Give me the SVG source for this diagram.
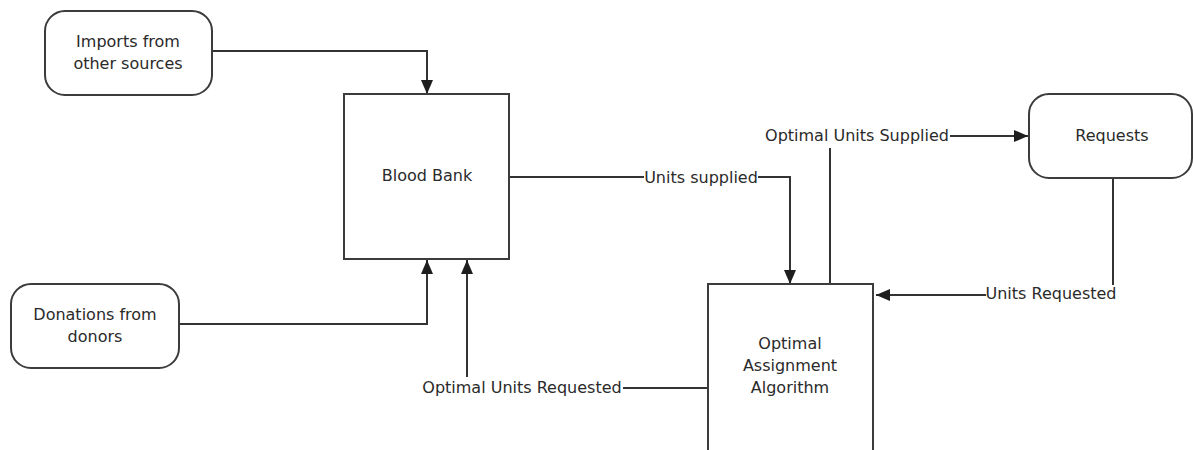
<svg xmlns="http://www.w3.org/2000/svg" width="1193" height="450" viewBox="0 0 1193 450">
  <defs>
    <marker id="arrow" markerUnits="userSpaceOnUse" markerWidth="14" markerHeight="12" refX="14" refY="6" orient="auto">
      <path d="M0,0 L14,6 L0,12 z" fill="#1e1e1e"/>
    </marker>
    <style>
      .box { fill: #ffffff; stroke: #3c3c3c; stroke-width: 2; }
      .wire { fill: none; stroke: #333; stroke-width: 2; }
      .label { font-family: "DejaVu Sans", "Liberation Sans", sans-serif; font-size: 16px; fill: #2a2a2a; text-anchor: middle; }
    </style>
  </defs>
  <rect width="1193" height="450" fill="#ffffff"/>

  <!-- connectors -->
  <g id="connectors">
    <!-- imports into blood bank -->
    <path class="wire" d="M212,51 H427 V94" marker-end="url(#arrow)"/>
    <!-- donations into blood bank -->
    <path class="wire" d="M179,324 H427 V260" marker-end="url(#arrow)"/>
    <!-- optimal units requested back to blood bank -->
    <path class="wire" d="M708,388 H623"/>
    <path class="wire" d="M467,377 V260" marker-end="url(#arrow)"/>
    <text class="label" x="522" y="393">Optimal Units Requested</text>
    <!-- units supplied from blood bank to algorithm -->
    <path class="wire" d="M509,177 H644"/>
    <path class="wire" d="M758,177 H790 V284" marker-end="url(#arrow)"/>
    <text class="label" x="701" y="183">Units supplied</text>
    <!-- optimal units supplied to requests -->
    <path class="wire" d="M830,284 V148"/>
    <path class="wire" d="M950,136 H1028" marker-end="url(#arrow)"/>
    <text class="label" x="857" y="141">Optimal Units Supplied</text>
    <!-- units requested from requests to algorithm -->
    <path class="wire" d="M1113,178 V285"/>
    <path class="wire" d="M986,295 H876" marker-end="url(#arrow)"/>
    <text class="label" x="1051" y="299">Units Requested</text>
  </g>

  <g id="imports">
    <rect class="box" x="45" y="11" width="167" height="84" rx="20" ry="20"/>
    <text class="label" x="128" y="47">Imports from</text>
    <text class="label" x="128" y="69">other sources</text>
  </g>

  <g id="donations">
    <rect class="box" x="11" y="284" width="168" height="84" rx="20" ry="20"/>
    <text class="label" x="95" y="320">Donations from</text>
    <text class="label" x="95" y="342">donors</text>
  </g>

  <g id="blood-bank">
    <rect class="box" x="344" y="94" width="165" height="165"/>
    <text class="label" x="427" y="181">Blood Bank</text>
  </g>

  <g id="requests">
    <rect class="box" x="1029" y="94" width="163" height="84" rx="20" ry="20"/>
    <text class="label" x="1112" y="141">Requests</text>
  </g>

  <g id="algorithm">
    <rect class="box" x="708" y="284" width="165" height="175"/>
    <text class="label" x="790" y="349">Optimal</text>
    <text class="label" x="790" y="371">Assignment</text>
    <text class="label" x="790" y="393">Algorithm</text>
  </g>
</svg>
